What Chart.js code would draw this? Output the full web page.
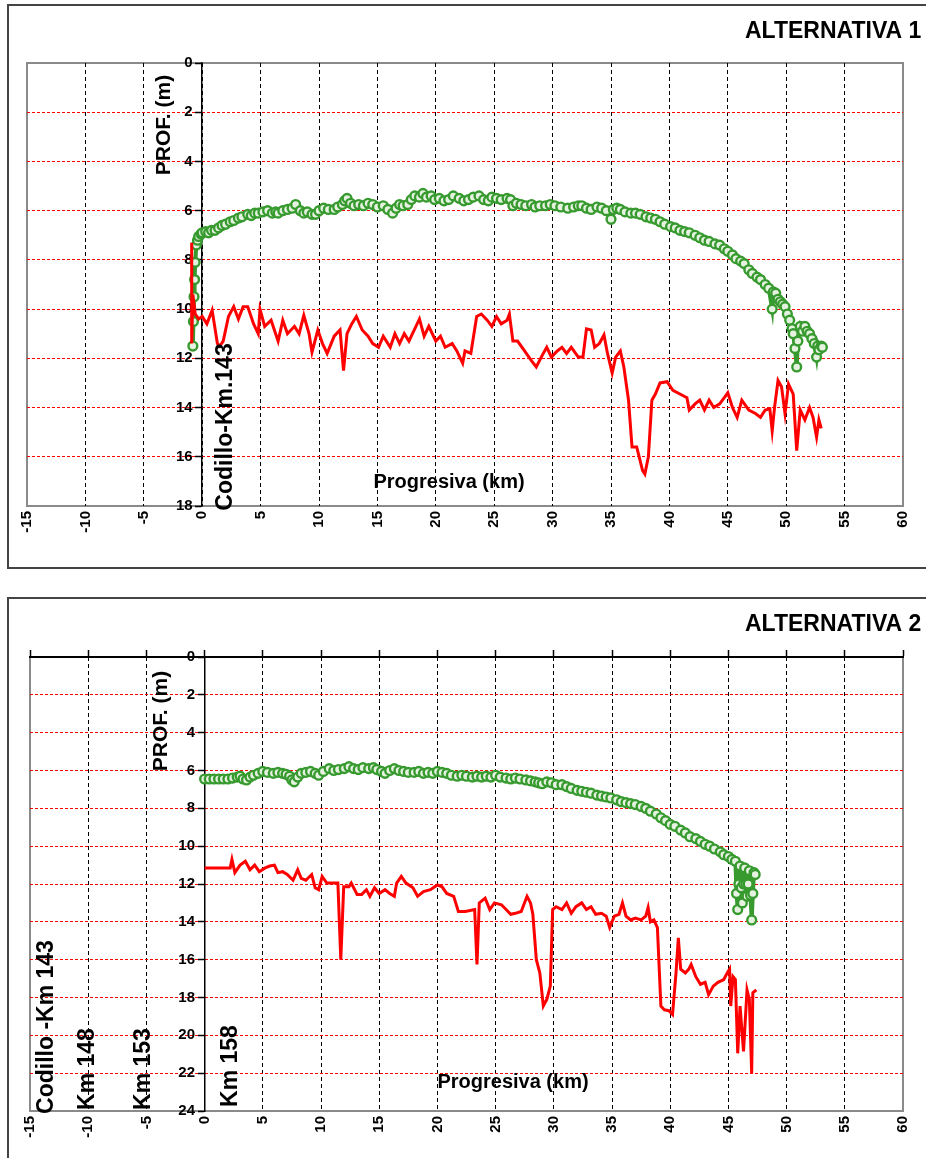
<!DOCTYPE html>
<html>
<head>
<meta charset="utf-8">
<script src="https://cdn.jsdelivr.net/npm/chart.js@4"></script>
<style>
  body { margin:0; background:#fff; width:926px; height:1158px; overflow:hidden; position:relative; }
  .frame { position:absolute; border:2px solid #444; }
  canvas { position:absolute; left:0; }
</style>
</head>
<body>
<div class="frame" style="left:7px;top:4px;width:940px;height:561px"></div>
<div class="frame" style="left:7px;top:597px;width:940px;height:600px"></div>
<canvas id="alt1" width="926" height="580" style="top:0"></canvas>
<canvas id="alt2" width="926" height="568" style="top:590px"></canvas>
<script>
// progresiva (km) range and depth ticks
const kmMin = -15, kmMax = 60, kmStep = 5;
const depthStep = 2;
const alt1DepthMax = 18;
const alt2DepthMax = 24;

// ALTERNATIVA 1 - [km, prof (m)]
const alt1Red = [
  [-0.9, 7.3], [-0.9, 11.4], [-0.8, 9.4], [-0.6, 10.2], [-0.3, 10.4], [0, 10.3], [0.4, 10.6], [0.85, 10.05],
  [1.3, 11.4], [1.5, 11.5], [1.8, 11.3], [2.25, 10.3], [2.7, 9.9], [3.1, 10.4], [3.5, 9.9], [3.9, 9.9],
  [4.4, 10.6], [4.8, 11.0], [4.95, 10.0], [5.35, 10.7], [5.9, 10.45], [6.5, 11.3], [6.9, 10.45], [7.3, 11.0],
  [7.9, 10.7], [8.3, 11.0], [8.7, 10.25], [9.15, 11.0], [9.4, 11.75], [9.9, 10.85], [10.3, 11.4], [10.7, 11.8],
  [11.3, 11.1], [11.8, 10.85], [12.1, 12.5], [12.4, 11.0], [12.8, 10.6], [13.2, 10.3], [13.7, 10.85], [14.2, 11.1],
  [14.6, 11.4], [15.1, 11.55], [15.5, 11.1], [16.1, 11.55], [16.5, 11.0], [16.9, 11.4], [17.3, 11.0], [17.7, 11.3],
  [18.3, 10.7], [18.6, 10.4], [19.0, 11.1], [19.4, 10.7], [20.0, 11.3], [20.4, 11.1], [20.8, 11.55], [21.4, 11.4],
  [21.8, 11.7], [22.3, 12.2], [22.5, 11.7], [23.0, 11.8], [23.5, 10.3], [23.9, 10.2], [24.4, 10.45], [24.8, 10.7],
  [25.2, 10.3], [25.6, 10.6], [26.1, 10.45], [26.3, 10.2], [26.6, 11.3], [27.0, 11.3], [27.6, 11.7], [28.2, 12.1],
  [28.6, 12.35], [29.2, 11.8], [29.5, 11.55], [29.9, 11.95], [30.4, 11.7], [30.8, 11.55], [31.2, 11.8], [31.6, 11.55],
  [32.2, 11.95], [32.6, 11.95], [32.9, 10.8], [33.3, 10.85], [33.6, 11.55], [34.0, 11.4], [34.4, 11.05], [34.7, 11.8],
  [35.1, 12.6], [35.4, 11.95], [35.8, 11.7], [36.1, 12.35], [36.5, 13.7], [36.8, 15.6], [37.2, 15.6], [37.7, 16.55],
  [37.9, 16.7], [38.2, 16.0], [38.5, 13.7], [38.8, 13.45], [39.2, 13.0], [39.8, 12.95], [40.3, 13.3], [40.9, 13.45],
  [41.5, 13.6], [41.7, 14.1], [42.2, 13.85], [42.6, 13.7], [43.0, 14.1], [43.4, 13.7], [43.8, 14.0], [44.3, 13.85],
  [44.7, 13.6], [45.0, 13.4], [45.4, 14.0], [45.8, 14.4], [46.2, 13.7], [46.8, 14.1], [47.4, 14.25], [47.8, 14.4],
  [48.2, 14.1], [48.6, 14.05], [48.8, 14.95], [49.0, 14.0], [49.3, 12.9], [49.6, 13.15], [49.9, 14.25], [50.2, 13.05],
  [50.6, 13.45], [50.9, 15.75], [51.2, 14.1], [51.6, 14.5], [52.0, 14.0], [52.3, 14.4], [52.6, 15.2], [52.8, 14.5],
  [53.0, 14.85]
];
const alt1Green = [
  [-0.8, 11.5], [-0.75, 10.5], [-0.7, 9.5], [-0.65, 8.8], [-0.6, 8.1], [-0.5, 7.4], [-0.4, 7.2], [-0.3, 7.05],
  [-0.1, 6.95], [0, 6.9], [0.3, 6.85], [0.55, 6.9], [0.8, 6.8], [1.1, 6.8], [1.4, 6.7], [1.7, 6.6],
  [2.0, 6.55], [2.4, 6.45], [2.7, 6.4], [3.1, 6.3], [3.4, 6.25], [3.9, 6.15], [4.2, 6.2], [4.5, 6.1],
  [4.8, 6.1], [5.2, 6.05], [5.6, 6.0], [6.0, 6.1], [6.3, 6.05], [6.5, 6.1], [6.9, 6.0], [7.3, 5.95],
  [7.7, 5.9], [8.0, 5.75], [8.4, 6.0], [8.7, 6.1], [9.0, 6.05], [9.4, 6.15], [9.7, 6.15], [10.0, 6.0],
  [10.4, 5.9], [10.8, 5.95], [11.3, 5.95], [11.6, 5.85], [12.0, 5.75], [12.2, 5.6], [12.4, 5.5], [12.7, 5.7],
  [13.0, 5.8], [13.4, 5.75], [13.8, 5.8], [14.2, 5.7], [14.6, 5.75], [15.0, 5.85], [15.5, 5.8], [15.9, 5.95],
  [16.3, 6.1], [16.6, 5.9], [16.9, 5.75], [17.2, 5.8], [17.6, 5.75], [17.9, 5.55], [18.2, 5.4], [18.6, 5.45],
  [18.9, 5.3], [19.2, 5.45], [19.6, 5.4], [19.9, 5.55], [20.3, 5.5], [20.7, 5.6], [21.1, 5.55], [21.5, 5.4],
  [22.0, 5.5], [22.4, 5.6], [22.8, 5.55], [23.2, 5.45], [23.7, 5.4], [24.1, 5.55], [24.5, 5.6], [24.8, 5.45],
  [25.2, 5.5], [25.6, 5.55], [26.1, 5.5], [26.4, 5.55], [26.6, 5.8], [26.9, 5.7], [27.3, 5.75], [27.7, 5.8],
  [28.2, 5.75], [28.5, 5.85], [28.9, 5.8], [29.4, 5.8], [29.8, 5.75], [30.2, 5.8], [30.7, 5.85], [31.3, 5.9],
  [31.8, 5.85], [32.2, 5.8], [32.5, 5.8], [32.9, 5.9], [33.3, 5.95], [33.8, 5.85], [34.2, 5.9], [34.6, 6.0],
  [35.0, 6.35], [35.2, 5.95], [35.5, 5.9], [35.8, 5.95], [36.2, 6.05], [36.7, 6.1], [37.1, 6.1], [37.5, 6.15],
  [38.0, 6.25], [38.4, 6.3], [38.8, 6.35], [39.2, 6.45], [39.6, 6.55], [40.1, 6.65], [40.5, 6.7], [40.9, 6.8],
  [41.3, 6.85], [41.7, 6.9], [42.2, 7.0], [42.6, 7.1], [43.0, 7.2], [43.4, 7.25], [43.9, 7.35], [44.3, 7.4],
  [44.7, 7.55], [45.0, 7.65], [45.4, 7.8], [45.7, 7.95], [46.1, 8.05], [46.4, 8.15], [46.8, 8.4], [47.1, 8.55],
  [47.5, 8.7], [47.8, 8.8], [48.2, 9.0], [48.5, 9.15], [48.8, 10.0], [48.9, 9.3], [49.1, 9.35], [49.3, 9.6],
  [49.5, 9.7], [49.7, 9.8], [49.9, 9.9], [50.1, 10.2], [50.3, 10.45], [50.5, 10.8], [50.6, 11.0], [50.75, 11.6],
  [50.9, 12.35], [51.0, 11.3], [51.2, 10.7], [51.4, 10.9], [51.6, 10.7], [51.8, 10.9], [52.0, 11.0], [52.2, 11.2],
  [52.4, 11.4], [52.6, 11.95], [52.7, 11.5], [52.8, 11.65], [53.0, 11.5], [53.1, 11.55]
];

// ALTERNATIVA 2 - [km, prof (m)]
const alt2Red = [
  [0, 11.15], [2.2, 11.15], [2.35, 10.7], [2.6, 11.4], [3.05, 11.0], [3.5, 10.8], [3.9, 11.25], [4.3, 11.0],
  [4.7, 11.35], [5.2, 11.15], [5.6, 11.05], [6.0, 11.0], [6.3, 11.4], [6.7, 11.35], [7.1, 11.5], [7.6, 11.8],
  [8.0, 11.25], [8.3, 11.7], [8.7, 11.8], [9.2, 11.5], [9.5, 12.2], [9.8, 12.3], [10.1, 11.6], [10.5, 11.95],
  [10.9, 11.95], [11.45, 11.95], [11.7, 16.0], [11.95, 12.15], [12.4, 12.15], [12.6, 11.95], [13.1, 12.55], [13.5, 12.55],
  [13.9, 12.3], [14.2, 12.65], [14.6, 12.2], [15.0, 12.5], [15.5, 12.3], [15.9, 12.5], [16.3, 12.65], [16.5, 11.95],
  [16.9, 11.6], [17.3, 11.95], [17.9, 12.2], [18.3, 12.65], [18.8, 12.4], [19.4, 12.3], [20.0, 12.05], [20.4, 12.15],
  [20.8, 12.5], [21.4, 12.65], [21.8, 13.45], [22.4, 13.45], [23.2, 13.35], [23.4, 16.25], [23.6, 13.0], [24.1, 12.75],
  [24.5, 13.35], [24.9, 13.0], [25.5, 13.1], [25.9, 13.35], [26.3, 13.6], [26.7, 13.55], [27.2, 13.45], [27.7, 12.65],
  [28.0, 13.0], [28.2, 13.6], [28.5, 16.0], [28.8, 16.7], [29.1, 18.45], [29.4, 18.1], [29.7, 17.4], [29.9, 13.35],
  [30.2, 13.2], [30.7, 13.35], [31.1, 13.0], [31.5, 13.55], [31.9, 13.2], [32.4, 13.0], [32.8, 13.35], [33.2, 13.2],
  [33.6, 13.6], [34.1, 13.55], [34.5, 13.7], [34.8, 14.3], [35.2, 13.7], [35.6, 13.6], [35.9, 13.0], [36.2, 13.7],
  [36.6, 13.9], [37.0, 13.8], [37.5, 13.9], [37.9, 13.7], [38.1, 13.25], [38.3, 14.0], [38.6, 13.9], [38.9, 14.3],
  [39.2, 18.45], [39.5, 18.65], [39.9, 18.7], [40.2, 18.9], [40.5, 16.7], [40.7, 14.85], [40.9, 16.5], [41.3, 16.7],
  [41.6, 16.5], [41.8, 16.25], [42.2, 16.9], [42.6, 17.3], [43.0, 17.2], [43.3, 17.85], [43.7, 17.4], [44.1, 17.2],
  [44.6, 17.05], [44.9, 16.7], [45.1, 16.5], [45.2, 18.45], [45.4, 16.9], [45.6, 17.05], [45.8, 20.95], [46.0, 18.45],
  [46.3, 20.85], [46.6, 17.6], [46.8, 18.1], [47.0, 22.0], [47.1, 17.75], [47.4, 17.6]
];
const alt2Green = [
  [0, 6.45], [0.4, 6.45], [0.8, 6.45], [1.2, 6.45], [1.6, 6.45], [2.0, 6.45], [2.4, 6.4], [2.8, 6.35],
  [3.05, 6.3], [3.3, 6.45], [3.6, 6.5], [3.9, 6.35], [4.2, 6.25], [4.6, 6.15], [5.0, 6.05], [5.4, 6.1],
  [5.9, 6.15], [6.3, 6.1], [6.7, 6.15], [7.0, 6.2], [7.3, 6.3], [7.5, 6.5], [7.7, 6.6], [8.0, 6.35],
  [8.3, 6.15], [8.7, 6.1], [9.1, 6.05], [9.5, 6.15], [9.8, 6.25], [10.2, 6.05], [10.7, 5.9], [11.1, 6.0],
  [11.5, 5.95], [12.0, 5.9], [12.4, 5.8], [12.8, 5.9], [13.2, 5.95], [13.6, 5.85], [14.1, 5.9], [14.5, 5.85],
  [14.8, 5.95], [15.2, 6.05], [15.5, 6.15], [15.9, 6.0], [16.3, 5.9], [16.7, 6.0], [17.1, 6.05], [17.5, 6.1],
  [18.0, 6.1], [18.4, 6.05], [18.8, 6.15], [19.2, 6.1], [19.6, 6.15], [20.0, 6.05], [20.4, 6.1], [20.8, 6.15],
  [21.2, 6.25], [21.7, 6.3], [22.1, 6.25], [22.5, 6.3], [23.0, 6.35], [23.4, 6.3], [23.8, 6.35], [24.2, 6.3],
  [24.6, 6.35], [25.0, 6.25], [25.4, 6.35], [25.9, 6.4], [26.3, 6.45], [26.7, 6.4], [27.1, 6.45], [27.6, 6.5],
  [28.0, 6.55], [28.4, 6.6], [28.7, 6.65], [29.0, 6.7], [29.4, 6.6], [29.8, 6.65], [30.2, 6.75], [30.7, 6.75],
  [31.1, 6.85], [31.5, 6.95], [32.0, 7.05], [32.4, 7.1], [32.8, 7.15], [33.2, 7.2], [33.7, 7.3], [34.1, 7.35],
  [34.5, 7.4], [34.9, 7.45], [35.4, 7.55], [35.8, 7.65], [36.2, 7.7], [36.6, 7.75], [37.0, 7.8], [37.5, 7.9],
  [37.9, 8.0], [38.3, 8.15], [38.8, 8.3], [39.2, 8.5], [39.6, 8.65], [40.0, 8.85], [40.4, 8.95], [40.9, 9.15],
  [41.3, 9.3], [41.7, 9.5], [42.2, 9.6], [42.6, 9.75], [43.0, 9.9], [43.4, 10.0], [43.8, 10.15], [44.3, 10.3],
  [44.6, 10.45], [45.0, 10.55], [45.3, 10.7], [45.6, 10.8], [45.7, 12.5], [45.8, 13.35], [45.9, 12.0], [46.0, 11.05],
  [46.1, 12.2], [46.2, 13.0], [46.3, 12.0], [46.4, 11.15], [46.5, 12.0], [46.6, 12.65], [46.7, 12.0], [46.8, 11.3],
  [46.9, 12.6], [47.0, 13.9], [47.1, 12.5], [47.2, 11.4], [47.3, 11.5]
];

const RED = '#ff0000';
const GREEN = '#379a2f';

Chart.defaults.font.family = '"Liberation Sans", Arial, sans-serif';

// gray plot frame, drawn under the axes
const framePlugin = {
  id: 'frame',
  beforeDraw(chart) {
    const a = chart.chartArea, ctx = chart.ctx;
    ctx.save();
    ctx.strokeStyle = '#8a8a8a';
    ctx.lineWidth = 2;
    ctx.strokeRect(a.left, a.top, a.right - a.left, a.bottom - a.top);
    ctx.restore();
  }
};

function textPlugin(items) {
  return {
    id: 'texts',
    afterDraw(chart) {
      const ctx = chart.ctx;
      items.forEach(t => {
        ctx.save();
        ctx.translate(t.x, t.y);
        if (t.rot) ctx.rotate(-Math.PI / 2);
        ctx.font = t.font;
        ctx.fillStyle = '#000';
        ctx.textAlign = t.align || 'center';
        ctx.textBaseline = 'middle';
        ctx.fillText(t.text, 0, 0);
        ctx.restore();
      });
    }
  };
}

function edgeColor(c, min, max, col) {
  const v = c.tick ? c.tick.value : null;
  return (v === min || v === max) ? 'rgba(0,0,0,0)' : col;
}

function makeChart(id, red, green, depthMax, pad, bottomH, withTopAxis, texts) {
  const scales = {
    x: {
      type: 'linear', position: 'bottom', min: kmMin, max: kmMax,
      afterFit: s => { s.height = bottomH; },
      ticks: {
        stepSize: kmStep, autoSkip: false, minRotation: 90, maxRotation: 90,
        padding: 5, color: '#000', font: { size: 15, weight: 'bold' }
      },
      grid: {
        drawTicks: false, lineWidth: 1,
        color: c => edgeColor(c, kmMin, kmMax, '#000')
      },
      border: { display: false, dash: [4, 3] }
    },
    y: {
      type: 'linear', reverse: true, min: 0, max: depthMax,
      position: { x: 0 },
      ticks: {
        stepSize: depthStep, color: '#000', font: { size: 15, weight: 'bold' },
        callback: v => v + '  \u200a'
      },
      grid: {
        lineWidth: 1, tickLength: 6, tickColor: '#000', tickWidth: 1.5,
        color: c => edgeColor(c, 0, depthMax, RED)
      },
      border: { color: '#000', width: 1.5, dash: [3, 2] }
    }
  };
  if (withTopAxis) {
    scales.x2 = {
      type: 'linear', position: 'top', min: kmMin, max: kmMax,
      afterFit: s => { s.height = 8; },
      ticks: { display: false, stepSize: kmStep },
      grid: { drawOnChartArea: false, tickLength: 7, tickColor: '#000', tickWidth: 1.5 },
      border: { color: '#000', width: 2 }
    };
  }
  return new Chart(document.getElementById(id), {
    type: 'line',
    data: {
      datasets: [
        {
          label: 'red', data: red, borderColor: RED, borderWidth: 3,
          pointRadius: 0, tension: 0
        },
        {
          label: 'green', data: green, borderColor: GREEN, borderWidth: 4,
          pointRadius: 4.4, pointBorderWidth: 2.4,
          pointBorderColor: GREEN, pointBackgroundColor: '#e4f2df', tension: 0
        }
      ]
    },
    options: {
      responsive: false,
      animation: false,
      layout: { padding: pad },
      plugins: { legend: { display: false }, tooltip: { enabled: false } },
      scales: scales
    },
    plugins: [framePlugin, textPlugin(texts)]
  });
}

const T = 'bold 23px "Liberation Sans", Arial, sans-serif';
const L = 'bold 21px "Liberation Sans", Arial, sans-serif';
const P = 'bold 20px "Liberation Sans", Arial, sans-serif';
const K = 'bold 23px "Liberation Sans", Arial, sans-serif';

makeChart('alt1', alt1Red, alt1Green, alt1DepthMax,
  { left: 27, right: 19, top: 63, bottom: 0 }, 74, false, [
    { text: 'ALTERNATIVA 1', x: 745, y: 32, font: T, align: 'left' },
    { text: 'PROF. (m)', x: 164, y: 125, font: L, rot: true },
    { text: 'Codillo-Km.143', x: 226, y: 427, font: K, rot: true },
    { text: 'Progresiva (km)', x: 449, y: 482, font: P }
  ]);

makeChart('alt2', alt2Red, alt2Green, alt2DepthMax,
  { left: 30, right: 8, top: 59, bottom: 0 }, 47, true, [
    { text: 'ALTERNATIVA 2', x: 745, y: 35, font: T, align: 'left' },
    { text: 'PROF. (m)', x: 161, y: 131, font: L, rot: true },
    { text: 'Codillo -Km 143', x: 47, y: 437, font: K, rot: true },
    { text: 'Km 148', x: 88, y: 479, font: K, rot: true },
    { text: 'Km 153', x: 144, y: 479, font: K, rot: true },
    { text: 'Km 158', x: 231, y: 476, font: K, rot: true },
    { text: 'Progresiva (km)', x: 513, y: 492, font: P }
  ]);
</script>
</body>
</html>
